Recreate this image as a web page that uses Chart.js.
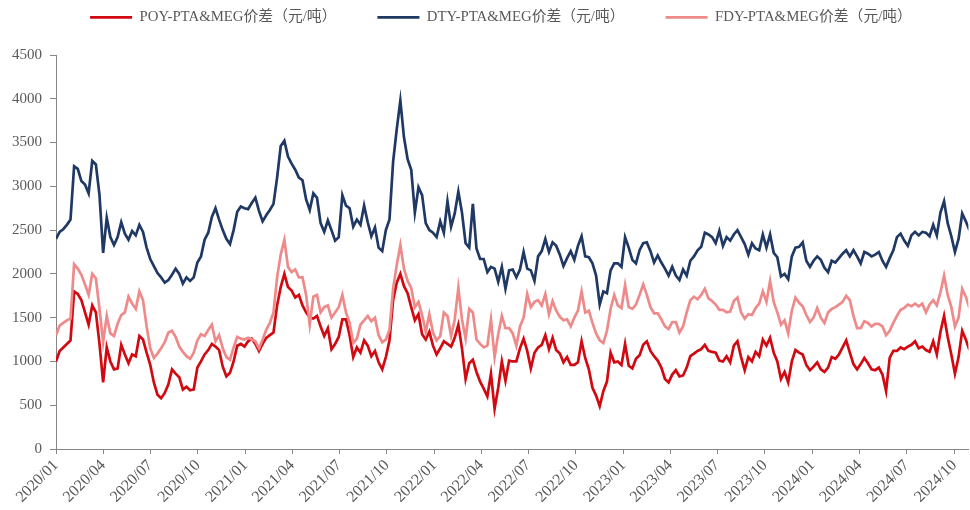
<!DOCTYPE html>
<html>
<head>
<meta charset="utf-8">
<script src="https://cdn.jsdelivr.net/npm/chart.js@4.4.1/dist/chart.umd.min.js"></script>
<style>
  html, body { margin: 0; padding: 0; background: #fff; }
  #wrap { width: 970px; height: 510px; }
</style>
</head>
<body>
<div id="wrap"><canvas id="chart"></canvas></div>
<script>
// spreads vs PTA&MEG, weekly readings from 2020/01/01 (yuan/ton)
const seriesNames = ['POY-PTA&MEG价差（元/吨）', 'DTY-PTA&MEG价差（元/吨）', 'FDY-PTA&MEG价差（元/吨）'];
const tickLabels = ['2020/01', '2020/04', '2020/07', '2020/10', '2021/01', '2021/04', '2021/07', '2021/10',
    '2022/01', '2022/04', '2022/07', '2022/10', '2023/01', '2023/04', '2023/07', '2023/10',
    '2024/01', '2024/04', '2024/07', '2024/10'];
const stepDays = 7;

const poy = [
    1000, 1120, 1160, 1200, 1240, 1800, 1770, 1700, 1560, 1420, 1640, 1560, 1200, 760, 1160, 1000, 910, 920, 1190, 1080,
    980, 1080, 1060, 1290, 1250, 1100, 960, 760, 620, 580, 640, 740, 910, 860, 820, 680, 710, 670, 680, 930,
    1000, 1080, 1130, 1200, 1170, 1130, 940, 830, 870, 1000, 1180, 1200, 1170,
    1230, 1260, 1200, 1120, 1200, 1270, 1300, 1330, 1640, 1850, 2000, 1850, 1810, 1730, 1760, 1640, 1560, 1500, 1490, 1520,
    1400, 1290, 1380, 1140, 1200, 1280, 1480, 1480, 1300, 1050, 1160, 1100, 1240, 1180, 1060, 1120, 990, 910, 1050, 1240,
    1700, 1900, 2000, 1860, 1780, 1620, 1470, 1540, 1310, 1250, 1340,
    1180, 1080, 1150, 1230, 1200, 1170, 1270, 1420, 1150, 800, 980, 1020, 880, 770, 690, 600, 860, 460, 700, 1000,
    780, 1010, 1000, 1000, 1150, 1260, 1120, 920, 1100, 1160, 1190, 1300, 1140, 1270, 1130, 1090, 990, 1050, 960, 960,
    990, 1230, 1040, 910, 700, 610, 490, 660, 770, 1100, 990,
    1000, 960, 1200, 950, 920, 1030, 1070, 1190, 1230, 1120, 1060, 1010, 930, 800, 760, 850, 900, 830, 840, 930,
    1060, 1090, 1120, 1140, 1190, 1120, 1110, 1100, 1010, 1000, 1060, 990, 1180, 1230, 1050, 900, 1050, 1000, 1110, 1060,
    1250, 1180, 1270, 1100, 1000, 800, 880, 760, 1000, 1130, 1100,
    1080, 960, 900, 940, 990, 910, 880, 930, 1050, 1030, 1080, 1160, 1240, 1100, 970, 910, 970, 1040, 980, 910,
    900, 930, 850, 660, 1040, 1120, 1120, 1160, 1140, 1170, 1190, 1230, 1150, 1170, 1130, 1110, 1230, 1080, 1340, 1520,
    1280, 1080, 860, 1050, 1350, 1250, 1130
];

const dty = [
    2400, 2480, 2510, 2560, 2620, 3230, 3200, 3060, 3020, 2920, 3290, 3250, 2900, 2240, 2640, 2420, 2330, 2420, 2590, 2460,
    2390, 2490, 2440, 2560, 2480, 2300, 2170, 2090, 2010, 1960, 1900, 1930, 1990, 2060, 2000, 1890, 1960, 1920, 1960, 2130,
    2200, 2390, 2470, 2650, 2750, 2620, 2500, 2400, 2340, 2500, 2710, 2770, 2750,
    2740, 2810, 2870, 2720, 2600, 2670, 2730, 2800, 3100, 3460, 3520, 3340, 3260, 3190, 3100, 3070, 2850, 2730, 2920, 2870,
    2580, 2480, 2610, 2500, 2380, 2420, 2900, 2780, 2750, 2540, 2620, 2560, 2780, 2590, 2430, 2530, 2300, 2260, 2500, 2620,
    3280, 3650, 3980, 3560, 3310, 3190, 2700, 2990, 2900, 2580, 2500,
    2470, 2420, 2600, 2470, 2830, 2540, 2690, 2940, 2700, 2350, 2300, 2800, 2290, 2170, 2170, 2020, 2080, 2060, 1910, 2080,
    1830, 2040, 2050, 1960, 2050, 2250, 2060, 2040, 1920, 2200, 2260, 2400, 2250, 2360, 2320, 2220, 2090, 2180, 2260, 2160,
    2320, 2430, 2200, 2190, 2120, 1980, 1650, 1800, 1780, 2040, 2120,
    2120, 2080, 2420, 2300, 2160, 2120, 2270, 2350, 2360, 2260, 2130, 2210, 2130, 2060, 1980, 2080, 1980, 1930, 2050, 1980,
    2150, 2200, 2270, 2310, 2470, 2450, 2420, 2350, 2490, 2320, 2420, 2380, 2450, 2500, 2420, 2340, 2220, 2350, 2290, 2270,
    2450, 2300, 2450, 2240, 2190, 1970, 2000, 1940, 2200, 2300, 2310,
    2360, 2150, 2080, 2150, 2200, 2160, 2070, 2020, 2150, 2130, 2180, 2230, 2270, 2200, 2270, 2200, 2120, 2250, 2230, 2200,
    2220, 2250, 2150, 2080, 2180, 2270, 2420, 2460, 2380, 2320, 2440, 2480, 2440, 2480, 2470, 2430, 2560, 2440, 2700, 2830,
    2580, 2430, 2250, 2400, 2690, 2600, 2500
];

const fdy = [
    1300, 1410, 1440, 1470, 1490, 2110, 2060, 1990, 1880, 1760, 2000, 1950, 1600, 1220, 1520, 1320, 1290, 1430, 1530, 1560,
    1740, 1660, 1600, 1800, 1700, 1400, 1150, 1040, 1090, 1150, 1220, 1330, 1350, 1280, 1170, 1110, 1060, 1030, 1100, 1240,
    1310, 1290, 1360, 1420, 1230, 1300, 1150, 1050, 1020, 1160, 1280, 1260, 1250,
    1270, 1250, 1230, 1150, 1250, 1360, 1440, 1560, 1960, 2220, 2390, 2080, 2020, 2050, 1960, 1960, 1760, 1420, 1740, 1760,
    1560, 1620, 1640, 1500, 1560, 1620, 1760, 1560, 1440, 1210, 1260, 1420, 1470, 1520, 1460, 1500, 1300, 1220, 1250, 1360,
    1830, 2100, 2330, 2060, 1920, 1840, 1620, 1680, 1530, 1340, 1540,
    1330, 1240, 1290, 1560, 1520, 1290, 1480, 1840, 1480, 1260, 1600, 1560, 1250, 1200, 1160, 1180, 1480, 1050, 1310, 1520,
    1380, 1380, 1320, 1180, 1400, 1500, 1770, 1620, 1680, 1700, 1640, 1770, 1540, 1690, 1580, 1510, 1470, 1480, 1400, 1500,
    1580, 1800, 1560, 1580, 1440, 1320, 1240, 1210, 1350, 1600, 1760,
    1640, 1610, 1870, 1620, 1600, 1650, 1760, 1880, 1760, 1620, 1550, 1550, 1480, 1400, 1370, 1450, 1450, 1330, 1400, 1560,
    1700, 1740, 1710, 1760, 1830, 1720, 1690, 1650, 1590, 1590, 1560, 1570, 1690, 1730, 1560, 1490, 1540, 1530, 1610, 1660,
    1800, 1680, 1920, 1680, 1560, 1420, 1470, 1320, 1580, 1730, 1670,
    1630, 1530, 1450, 1500, 1610, 1500, 1440, 1560, 1600, 1620, 1650, 1680, 1750, 1700, 1520, 1380, 1380, 1460, 1440, 1400,
    1430, 1430, 1400, 1300, 1350, 1440, 1520, 1590, 1610, 1650, 1630, 1660, 1630, 1660, 1560, 1650, 1700, 1640, 1790, 1980,
    1760, 1620, 1400, 1500, 1830, 1740, 1610
];

const colors = ['#d10a12', '#1f3864', '#ee8a8a'];
const fontFamily = "'Liberation Serif', 'Noto Sans CJK SC', serif";
const textColor = '#595959';
const axisColor = '#868686';

function dayOf(label) {
    const parts = label.split('/').map(Number);
    return (Date.UTC(parts[0], parts[1] - 1, 1) - Date.UTC(2020, 0, 1)) / 86400000;
}
const tickDays = tickLabels.map(dayOf);
const toPoints = arr => arr.map((v, i) => ({ x: i * stepDays, y: v }));

const allSeries = [poy, dty, fdy];
const datasets = allSeries.map((arr, k) => ({
    label: seriesNames[k],
    data: toPoints(arr),
    borderColor: colors[k],
    backgroundColor: colors[k],
    borderWidth: 2.7,
    pointRadius: 0,
    tension: 0,
    order: 3 - k
}));

// legend: fixed height so the plot top lands where the reference has it,
// and drawn a bit right of centre like the original
const legendTweak = {
    id: 'legendTweak',
    afterInit(chart) {
        const legend = chart.legend;
        const fit = legend.fit;
        const draw = legend.draw;
        legend.fit = function () {
            fit.call(this);
            this.height = 49;
        };
        legend.draw = function () {
            this.ctx.save();
            this.ctx.translate(16, 0);
            draw.call(this);
            this.ctx.restore();
        };
    }
};

const ctx = document.getElementById('chart').getContext('2d');
const myChart = new Chart(ctx, {
    type: 'line',
    data: { datasets: datasets },
    plugins: [legendTweak],
    options: {
        responsive: true,
        maintainAspectRatio: false,
        animation: false,
        layout: { padding: { top: 6, right: 0, left: 0, bottom: 0 } },
        plugins: {
            tooltip: { enabled: false },
            legend: {
                position: 'top',
                labels: {
                    usePointStyle: true,
                    pointStyle: 'line',
                    pointStyleWidth: 42,
                    boxHeight: 14,
                    padding: 4,
                    color: textColor,
                    font: { family: fontFamily, size: 14.8 },
                    generateLabels: chart => {
                        const items = Chart.defaults.plugins.legend.labels.generateLabels(chart)
                            .sort((a, b) => a.datasetIndex - b.datasetIndex);
                        items.forEach((it, i) => {
                            if (i < items.length - 1) it.text += '\u3000\u3000\u3000';
                        });
                        return items;
                    }
                }
            }
        },
        scales: {
            x: {
                type: 'linear',
                min: 0,
                max: 1762,
                grid: { display: true, drawOnChartArea: false, drawTicks: true, tickLength: 5, color: axisColor },
                border: { display: true, color: axisColor, width: 1 },
                ticks: {
                    autoSkip: false,
                    minRotation: 45,
                    maxRotation: 45,
                    padding: 2,
                    color: textColor,
                    font: { family: fontFamily, size: 16 },
                    callback: (v, i) => tickLabels[i]
                },
                afterBuildTicks: s => { s.ticks = tickDays.map(d => ({ value: d })); },
                afterFit: s => { s.height = 61; }
            },
            y: {
                min: 0,
                max: 4500,
                grid: { display: true, drawOnChartArea: false, drawTicks: true, tickLength: 6, color: axisColor },
                border: { display: true, color: axisColor, width: 1 },
                ticks: {
                    stepSize: 500,
                    padding: 8,
                    color: textColor,
                    font: { family: fontFamily, size: 15 },
                    callback: v => String(v)
                },
                afterFit: s => { s.width = 56; }
            }
        }
    }
});
</script>
</body>
</html>
